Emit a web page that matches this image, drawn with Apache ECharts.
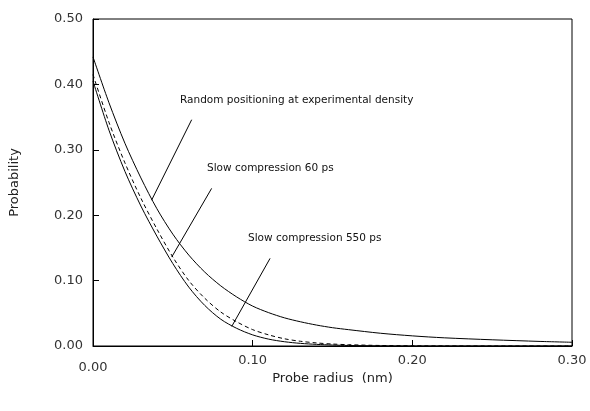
<!DOCTYPE html>
<html>
<head>
<meta charset="utf-8">
<script src="https://cdn.jsdelivr.net/npm/echarts@6/dist/echarts.min.js"></script>
<style>
  html, body { margin: 0; padding: 0; background: #fff; }
  #chart { width: 590px; height: 411px; }
</style>
</head>
<body>
<div id="chart"></div>
<script>
// probe radius (nm)
const radius = [0, 0.01, 0.02, 0.03, 0.04, 0.05, 0.06, 0.07, 0.08, 0.09, 0.10,
  0.11, 0.12, 0.13, 0.14, 0.15, 0.16, 0.18, 0.20, 0.22, 0.25, 0.28, 0.30]

// probability curves
const randomPos = [0.442, 0.372, 0.310, 0.257, 0.210, 0.171, 0.139, 0.113, 0.092, 0.075, 0.061,
  0.051, 0.043, 0.037, 0.032, 0.028, 0.025, 0.0195, 0.0155, 0.0125, 0.0095, 0.007, 0.0057]
const slow60 = [0.415, 0.342, 0.280, 0.226, 0.179, 0.136, 0.100, 0.073, 0.052, 0.037, 0.025,
  0.017, 0.011, 0.0072, 0.0047, 0.003, 0.002, 0.0008, 0.0003, 0.0001, 0, 0, 0]
const slow550 = [0.405, 0.330, 0.267, 0.214, 0.168, 0.126, 0.090, 0.062, 0.041, 0.027, 0.017,
  0.0105, 0.0065, 0.004, 0.0025, 0.0015, 0.0008, 0.0002, 0, 0, 0, 0, 0]

// annotation texts (anchor = left edge, data coords) and leader lines
const labelText = ['Random positioning at experimental density', 'Slow compression 60 ps', 'Slow compression 550 ps']
const labelAt = [[0.0545, 0.376], [0.0714, 0.272], [0.0971, 0.165]]
const leaders = [
  [[0.0618, 0.346], [0.0367, 0.223]],
  [[0.0743, 0.241], [0.0493, 0.136]],
  [[0.1109, 0.134], [0.0869, 0.030]]
]

const xTicks = [0, 0.1, 0.2, 0.3]
const yTicks = [0, 0.1, 0.2, 0.3, 0.4, 0.5]

function pairs (ys) {
  return radius.map(function (x, i) { return [x, ys[i]] })
}

let chart = echarts.init(document.getElementById('chart'))

const lineStyle = { color: '#000', width: 1 }

const option = {
  backgroundColor: '#fff',
  animation: false,
  grid: {
    left: 93,
    right: 18,
    top: 19,
    bottom: 65,
    show: true,
    borderColor: '#000',
    borderWidth: 1
  },
  xAxis: {
    type: 'value',
    min: xTicks[0],
    max: xTicks[xTicks.length - 1],
    interval: 0.1,
    name: 'Probe radius  (nm)',
    nameLocation: 'middle',
    nameGap: 26,
    nameMoveOverlap: false,
    nameTextStyle: { fontFamily: 'DejaVu Sans', fontSize: 13, color: '#222' },
    axisLine: { lineStyle: { color: '#000' } },
    axisTick: { inside: true, length: 6, lineStyle: { color: '#000' } },
    splitLine: { show: false },
    axisLabel: {
      fontFamily: 'DejaVu Sans',
      fontSize: 13,
      color: '#333',
      margin: 8,
      formatter: function (v) {
        return v === 0 ? '{a|0.00}' : v.toFixed(2)
      },
      rich: { a: { fontFamily: 'DejaVu Sans', fontSize: 13, color: '#333', padding: [7, 0, 0, 0] } }
    }
  },
  yAxis: {
    type: 'value',
    min: yTicks[0],
    max: yTicks[yTicks.length - 1],
    interval: 0.1,
    name: 'Probability',
    nameLocation: 'middle',
    nameGap: 72,
    nameMoveOverlap: false,
    nameTextStyle: { fontFamily: 'DejaVu Sans', fontSize: 13, color: '#222' },
    axisLine: { show: true, lineStyle: { color: '#000' } },
    axisTick: { show: true, inside: true, length: 6, lineStyle: { color: '#000' } },
    splitLine: { show: false },
    axisLabel: {
      fontFamily: 'DejaVu Sans',
      fontSize: 13,
      color: '#333',
      margin: 10,
      formatter: function (v) { return v.toFixed(2) }
    }
  },
  series: [
    {
      name: labelText[0],
      type: 'line',
      data: pairs(randomPos),
      showSymbol: false,
      smooth: 0.3,
      lineStyle: lineStyle,
      markLine: {
        silent: true,
        symbol: 'none',
        label: { show: false },
        lineStyle: { color: '#000', width: 1, type: 'solid' },
        data: leaders.map(function (l) {
          return [{ coord: l[0] }, { coord: l[1] }]
        })
      }
    },
    {
      name: labelText[1],
      type: 'line',
      data: pairs(slow60),
      showSymbol: false,
      smooth: 0.3,
      lineStyle: { color: '#000', width: 1, type: [4, 3] }
    },
    {
      name: labelText[2],
      type: 'line',
      data: pairs(slow550),
      showSymbol: false,
      smooth: 0.3,
      lineStyle: lineStyle
    }
  ]
}

chart.setOption(option, true)

// annotation texts placed through the grid's coordinate system
chart.setOption({
  graphic: labelText.map(function (t, i) {
    const p = chart.convertToPixel({ gridIndex: 0 }, labelAt[i])
    return {
      type: 'text',
      x: p[0],
      y: p[1],
      style: {
        text: t,
        fill: '#111',
        fontFamily: 'DejaVu Sans',
        fontSize: 10.5,
        verticalAlign: 'middle'
      }
    }
  })
})
</script>
</body>
</html>
